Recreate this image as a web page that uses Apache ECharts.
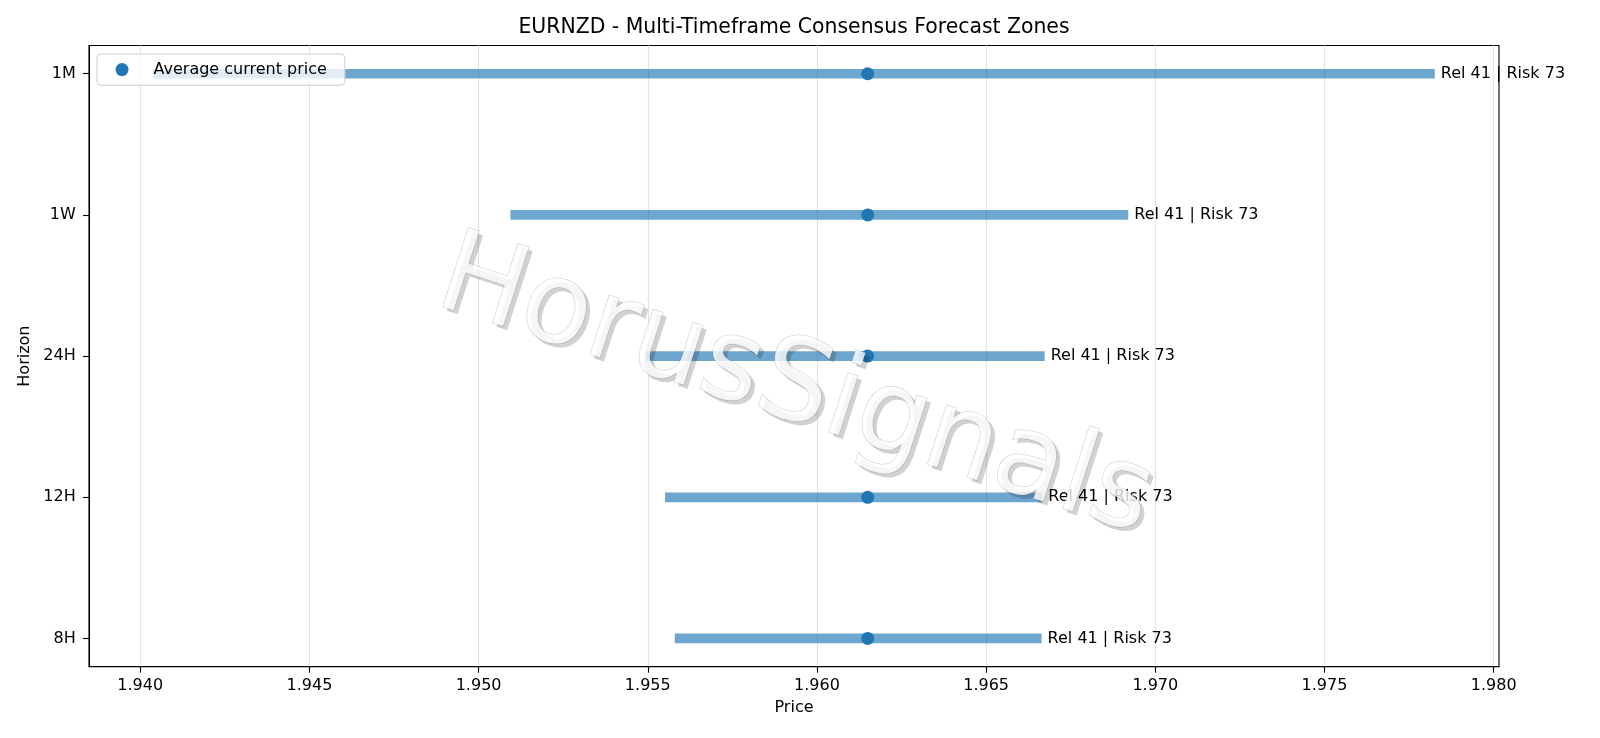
<!DOCTYPE html>
<html>
<head>
<meta charset="utf-8">
<script src="https://cdn.jsdelivr.net/npm/echarts@6/dist/echarts.min.js"></script>
<style>
  html, body { margin: 0; padding: 0; background: #fff; }
  #chart { width: 1600px; height: 738px; }
</style>
</head>
<body>
<div id="chart"></div>
<script>
// horizons top to bottom
const horizons = ['1M', '1W', '24H', '12H', '8H'];
const zoneLow = [1.94038, 1.95094, 1.95494, 1.95551, 1.95580];
const zoneHigh = [1.97826, 1.96920, 1.96673, 1.96666, 1.96664];
const currentPrice = [1.96150, 1.96150, 1.96150, 1.96150, 1.96150];
const relScore = [41, 41, 41, 41, 41];
const riskScore = [73, 73, 73, 73, 73];
const priceTicks = [1.940, 1.945, 1.950, 1.955, 1.960, 1.965, 1.970, 1.975, 1.980];
const horizonTicks = [0, 1, 2, 3, 4];

const FONT = 'DejaVu Sans';
const chart = echarts.init(document.getElementById('chart'), null, { renderer: 'canvas' });

const zoneData = horizons.map((h, i) => [i, zoneLow[i], zoneHigh[i]]);
const priceData = horizons.map((h, i) => [currentPrice[i], i]);

function renderZone(params, api) {
  const i = api.value(0);
  const s = api.coord([api.value(1), i]);
  const e = api.coord([api.value(2), i]);
  const h = 9.7;
  return {
    type: 'group',
    children: [
      {
        type: 'rect',
        shape: { x: s[0], y: s[1] - h / 2, width: e[0] - s[0], height: h },
        style: { fill: 'rgba(31,119,180,0.65)' }
      },
      {
        type: 'text',
        x: e[0] + 6,
        y: e[1],
        style: {
          text: 'Rel ' + relScore[i] + ' | Risk ' + riskScore[i],
          fill: '#000',
          font: '16px "' + FONT + '"',
          align: 'left',
          verticalAlign: 'middle'
        }
      }
    ]
  };
}

// watermark: a grey offset copy under a translucent white copy
const wmX = 795, wmY = 390, wmRot = -18 * Math.PI / 180;
const wmFont = '114px "' + FONT + '"';

chart.setOption({
  backgroundColor: '#fff',
  animation: false,
  textStyle: { fontFamily: FONT },
  title: {
    text: 'EURNZD - Multi-Timeframe Consensus Forecast Zones',
    left: 794,
    top: 18,
    textAlign: 'center',
    padding: 0,
    textStyle: { fontFamily: FONT, fontSize: 20.4, fontWeight: 'normal', color: '#000' }
  },
  grid: {
    left: 89, right: 101, top: 45.5, bottom: 71.3,
    show: true, borderColor: '#000', borderWidth: 1.1, backgroundColor: 'transparent'
  },
  legend: {
    data: [{ name: 'Average current price', icon: 'circle' }],
    left: 97, top: 54,
    itemWidth: 13, itemHeight: 13,
    padding: [7.6, 18, 7.6, 18.5],
    backgroundColor: 'rgba(255,255,255,0.8)',
    borderColor: '#cccccc', borderWidth: 1, borderRadius: 4,
    selectedMode: false,
    formatter: name => '{p|}' + name,
    textStyle: {
      fontFamily: FONT, fontSize: 16, color: '#000',
      rich: { p: { width: 20 } }
    }
  },
  xAxis: {
    type: 'value',
    min: 1.938486,
    max: 1.980158,
    name: 'Price',
    nameLocation: 'middle',
    nameGap: 33.6,
    nameTextStyle: { fontFamily: FONT, fontSize: 16, color: '#000' },
    axisLine: { onZero: false, lineStyle: { color: '#000', width: 1.1 } },
    axisTick: { customValues: priceTicks, length: 6, lineStyle: { color: '#000', width: 1.1 } },
    axisLabel: {
      customValues: priceTicks,
      margin: 11,
      fontFamily: FONT, fontSize: 16, color: '#000',
      formatter: v => v.toFixed(3)
    },
    splitLine: { show: true, lineStyle: { color: '#e3e3e3', width: 1.2 } }
  },
  yAxis: {
    type: 'value',
    inverse: true,
    min: -0.2,
    max: 4.2,
    name: 'Horizon',
    nameLocation: 'middle',
    nameGap: 50,
    nameRotate: 90,
    nameTextStyle: { fontFamily: FONT, fontSize: 16, color: '#000' },
    axisLine: { onZero: false, lineStyle: { color: '#000', width: 1.1 } },
    axisTick: { customValues: horizonTicks, length: 6, lineStyle: { color: '#000', width: 1.1 } },
    axisLabel: {
      customValues: horizonTicks,
      margin: 13.3,
      fontFamily: FONT, fontSize: 16, color: '#000',
      formatter: v => horizons[Math.round(v)] || ''
    },
    splitLine: { show: false }
  },
  series: [
    {
      type: 'custom',
      name: 'zones',
      renderItem: renderZone,
      encode: { x: [1, 2], y: 0 },
      data: zoneData,
      z: 2
    },
    {
      type: 'scatter',
      name: 'Average current price',
      data: priceData,
      symbol: 'circle',
      symbolSize: 13,
      itemStyle: { color: '#1f77b4', opacity: 1 },
      z: 3
    }
  ],
  graphic: [
    {
      type: 'text',
      x: wmX + 4,
      y: wmY + 4,
      rotation: wmRot,
      z: 99,
      silent: true,
      style: {
        text: 'HorusSignals',
        font: wmFont,
        fill: 'rgba(0,0,0,0.18)',
        align: 'center',
        verticalAlign: 'middle'
      }
    },
    {
      type: 'text',
      x: wmX,
      y: wmY,
      rotation: wmRot,
      z: 100,
      silent: true,
      style: {
        text: 'HorusSignals',
        font: wmFont,
        fill: 'rgba(255,255,255,0.8)',
        stroke: 'rgba(0,0,0,0.2)',
        lineWidth: 1,
        align: 'center',
        verticalAlign: 'middle'
      }
    }
  ]
});
</script>
</body>
</html>
